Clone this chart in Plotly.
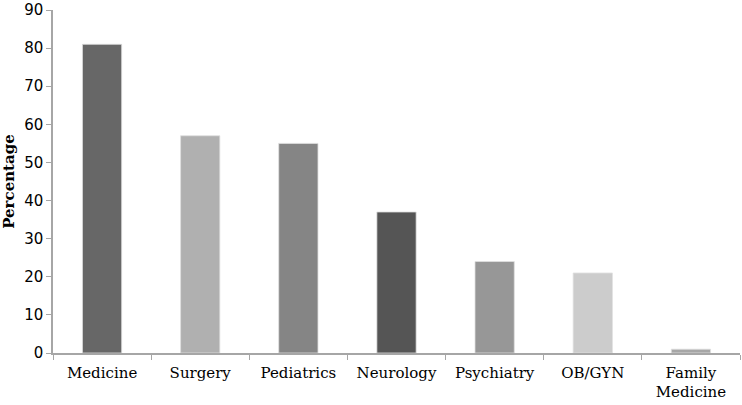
import plotly.graph_objects as go

categories = ["Medicine", "Surgery", "Pediatrics", "Neurology", "Psychiatry", "OB/GYN", "Family<br>Medicine"]
values = [81, 57, 55, 37, 24, 21, 1]
bar_colors = ["#676767", "#b0b0b0", "#858585", "#555555", "#979797", "#cccccc", "#a6a6a6"]
y_ticks = [0, 10, 20, 30, 40, 50, 60, 70, 80, 90]

fig = go.Figure(go.Bar(x=categories, y=values,
                       marker=dict(color=bar_colors, line=dict(width=0.8, color="#e0e0e0")),
                       width=0.4))

fig.update_layout(
    width=742, height=405,
    margin=dict(l=53, r=2, t=10, b=52, autoexpand=False),
    plot_bgcolor="white", paper_bgcolor="white",
    font=dict(family="DejaVu Serif", color="#000000"),
    showlegend=False,
)
fig.update_xaxes(
    showline=True, linecolor="#a6a6a6", linewidth=1.5,
    ticks="outside", tickson="boundaries", ticklen=5, tickcolor="#a6a6a6",
    tickfont=dict(size=15, family="DejaVu Serif"),
    ticklabelstandoff=5,
    showgrid=False,
)
fig.update_yaxes(
    range=[0, 90], tickvals=y_ticks,
    showline=True, linecolor="#a6a6a6", linewidth=1.5,
    ticks="outside", ticklen=5, tickcolor="#a6a6a6",
    tickfont=dict(size=15, family="DejaVu Sans"),
    ticklabeloverflow="allow",
    showgrid=False, zeroline=False,
    title=dict(text="<b>Percentage</b>", font=dict(size=15, family="DejaVu Serif"), standoff=8),
)
fig.write_html("out.html", config={"displayModeBar": False},
               post_script="document.body.style.margin='0';document.body.style.overflow='hidden';")
